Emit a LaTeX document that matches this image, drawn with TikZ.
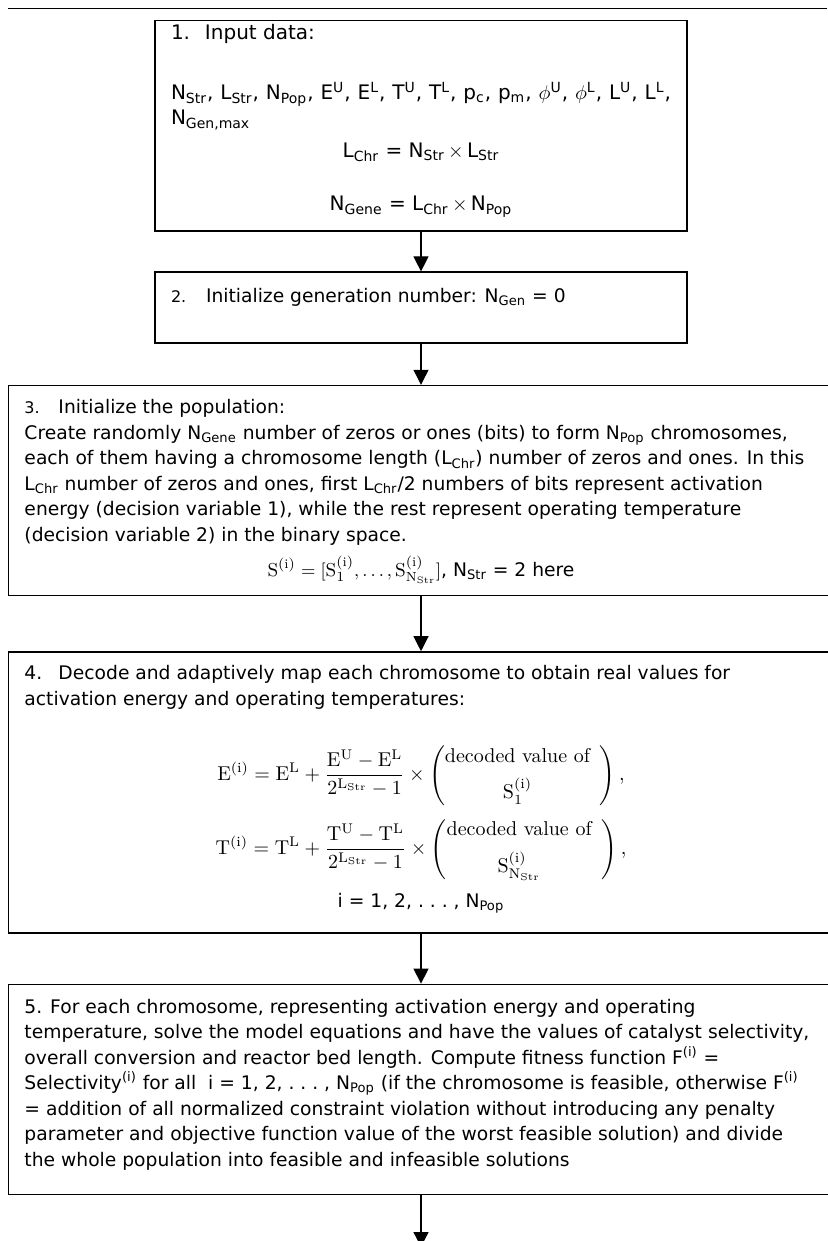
\documentclass[tikz,border=0pt]{standalone}
\usepackage{amsmath}
\usepackage{fontspec}
\usepackage{tikz}
\usetikzlibrary{positioning,arrows.meta}
\newfontfamily\tahoma{DejaVu Sans}
% text block of a stage: width, height, body (top aligned, one \\ per printed line)
\newcommand{\stagetext}[3]{\parbox[c][#2][t]{#1}{\raggedright\tahoma\fontsize{9.35}{12.75}\selectfont
  \rightskip=0pt plus 1fil minus 1000pt\lineskiplimit=-100pt\relax#3}}

\begin{document}
\begin{tikzpicture}[>={Triangle[length=7.5pt,width=7.5pt]}, semithick,
    stage/.style={draw,line width=0.7pt,inner xsep=8pt,inner ysep=0pt}]
  \useasboundingbox (0,0) rectangle (413.5pt,-620.5pt);
  \draw[line width=0.65pt] (4.15pt,-4.15pt) -- (413.5pt,-4.15pt);

  \node[stage,anchor=north] (input) at (210.5pt,-10pt) {\stagetext{250pt}{105.25pt}{%
    \fontsize{10}{12.5}\selectfont
    \rule{0pt}{9.65pt}\makebox[17pt][l]{1.}Input data:\\[17.35pt]
    N\textsubscript{Str},\hfill L\textsubscript{Str},\hfill N\textsubscript{Pop},\hfill
    E\textsuperscript{U},\hfill E\textsuperscript{L},\hfill T\textsuperscript{U},\hfill
    T\textsuperscript{L},\hfill p\textsubscript{c},\hfill p\textsubscript{m},\hfill
    $\phi$\textsuperscript{U},\hfill $\phi$\textsuperscript{L},\hfill
    L\textsuperscript{U},\hfill L\textsuperscript{L},\\
    N\textsubscript{Gen,max}\par\vspace{3.85pt}
    {\centering L\textsubscript{Chr} = N\textsubscript{Str}\,$\times$\,L\textsubscript{Str}\par}
    \vspace{14.15pt}
    {\centering N\textsubscript{Gene} = L\textsubscript{Chr}\,$\times$\,N\textsubscript{Pop}\par}}};

  \node[stage,below=19.75pt of input] (initgen) {\stagetext{250pt}{35.5pt}{%
    \rule{0pt}{15pt}\makebox[17.5pt][l]{\footnotesize 2.}Initialize generation number: N\textsubscript{Gen} = 0}};

  \node[stage,below=20.5pt of initgen] (population) {\stagetext{396.5pt}{105pt}{%
    \rule{0pt}{14pt}\makebox[17pt][l]{\footnotesize 3.}Initialize the population:\\
    Create randomly N\textsubscript{Gene} number of zeros or ones (bits) to form N\textsubscript{Pop} chromosomes,\\
    each of them having a chromosome length (L\textsubscript{Chr}) number of zeros and ones. In this\\
    L\textsubscript{Chr} number of zeros and ones, first L\textsubscript{Chr}/2 numbers of bits represent activation\\
    energy (decision variable 1), while the rest represent operating temperature\\
    (decision variable 2) in the binary space.\par\vspace{4.75pt}
    {\centering $\mathrm{S}^{(\mathrm{i})}=[\mathrm{S}_1^{(\mathrm{i})},\ldots,\mathrm{S}_{\mathrm{N}_{\mathrm{Str}}}^{(\mathrm{i})}]$, N\textsubscript{Str} = 2 here\par}}};

  \node[stage,below=27.5pt of population] (decode) {\stagetext{396.5pt}{140.5pt}{%
    \rule{0pt}{14pt}\makebox[17pt][l]{4.}Decode and adaptively map each chromosome to obtain real values for\\
    activation energy and operating temperatures:\par\vspace{24.75pt}
    {\centering\fontsize{10}{12.75}\selectfont
     $\displaystyle\lineskiplimit=0pt\mathrm{E}^{(\mathrm{i})}=\mathrm{E}^{\mathrm{L}}
      +\frac{\mathrm{E}^{\mathrm{U}}-\mathrm{E}^{\mathrm{L}}}{2^{\mathrm{L}_{\mathrm{Str}}}-1}\times
      \begin{pmatrix}\textrm{decoded value of}\hspace{5pt}\\[4pt] \mathrm{S}_1^{(\mathrm{i})}\hspace{5pt}\end{pmatrix},$\par}
    \vspace{24.25pt}
    {\centering\fontsize{10}{12.75}\selectfont
     $\displaystyle\lineskiplimit=0pt\mathrm{T}^{(\mathrm{i})}=\mathrm{T}^{\mathrm{L}}
      +\frac{\mathrm{T}^{\mathrm{U}}-\mathrm{T}^{\mathrm{L}}}{2^{\mathrm{L}_{\mathrm{Str}}}-1}\times
      \begin{pmatrix}\textrm{decoded value of}\hspace{5pt}\\[4pt] \mathrm{S}_{\mathrm{N}_{\mathrm{Str}}}^{(\mathrm{i})}\hspace{5pt}\end{pmatrix},$\par}
    \vspace{13.6pt}
    {\centering i = 1, 2, .\ .\ .\ , N\textsubscript{Pop}\par}}};

  \node[stage,below=25pt of decode] (fitness) {\stagetext{396.5pt}{105pt}{%
    \rule{0pt}{14.35pt}5. For each chromosome, representing activation energy and operating\\
    temperature, solve the model equations and have the values of catalyst selectivity,\\
    overall conversion and reactor bed length. Compute fitness function F\textsuperscript{(i)} =\\
    Selectivity\textsuperscript{(i)} for all\ \ i = 1, 2, .\ .\ .\ , N\textsubscript{Pop} (if the chromosome is feasible, otherwise F\textsuperscript{(i)}\\
    = addition of all normalized constraint violation without introducing any penalty\\
    parameter and objective function value of the worst feasible solution) and divide\\
    the whole population into feasible and infeasible solutions}};
  \coordinate[below=26pt of fitness] (next);

  \draw[->] (input) -- (initgen);
  \draw[->] (initgen) -- (population);
  \draw[->] (population) -- (decode);
  \draw[->] (decode) -- (fitness);
  \draw[->] (fitness) -- (next);
\end{tikzpicture}
\end{document}
